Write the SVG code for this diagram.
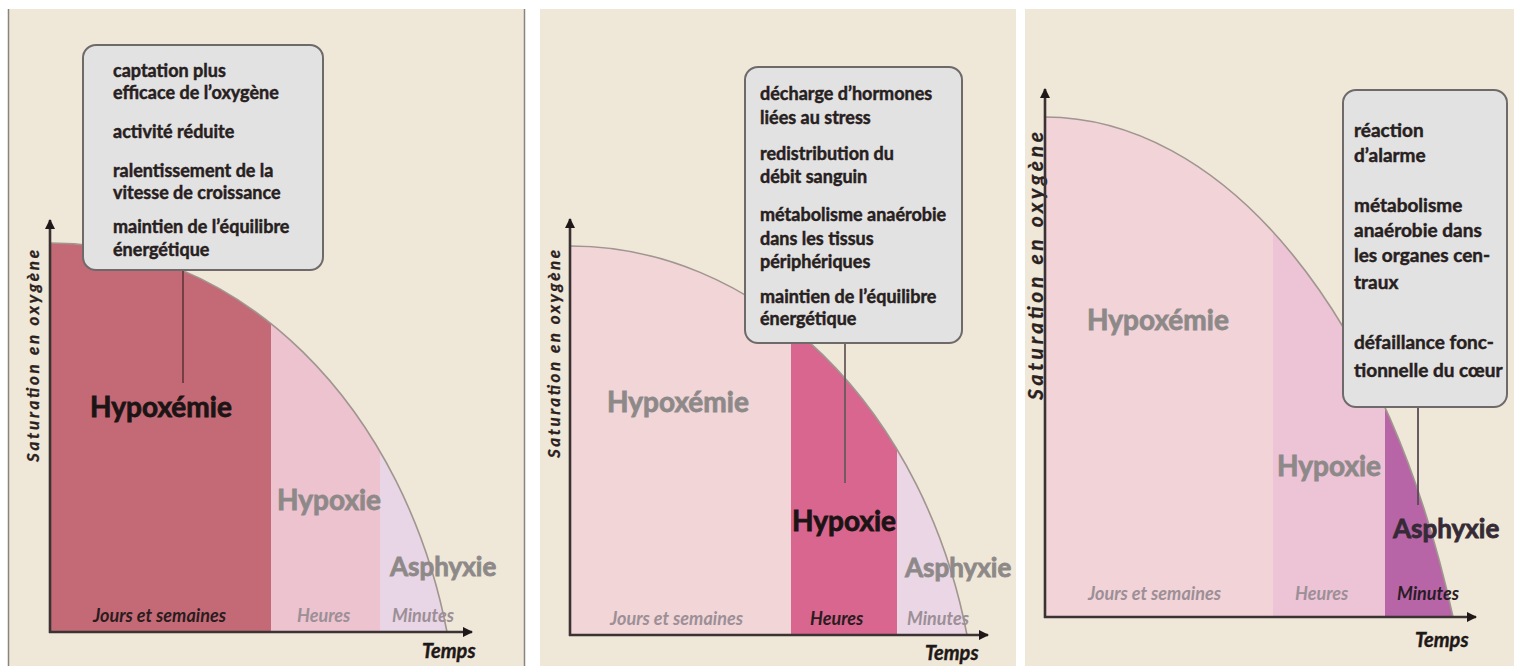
<svg xmlns="http://www.w3.org/2000/svg" width="1514" height="666" viewBox="0 0 1514 666">
<style>
.bg{fill:#efe7d7}
.curve{fill:none;stroke:#a0958f;stroke-width:1.6}
.axis{stroke:#3b3333;stroke-width:2.6;fill:none}
.box{fill:#e3e2e2;stroke:#6f6a6a;stroke-width:2}
.bt{font-family:Lato,"Open Sans",sans-serif;font-weight:700;font-size:18px;fill:#272020;stroke:#272020;stroke-width:0.45}
.bt3{font-family:Lato,"Open Sans",sans-serif;font-weight:700;font-size:19px;fill:#272020;stroke:#272020;stroke-width:0.45}
.big{font-family:Lato,"Open Sans",sans-serif;font-weight:700;font-size:28px;stroke-width:0.8}
.it{font-family:Lato,"Open Sans",sans-serif;font-weight:700;font-style:italic;font-size:18px}
.tm{font-family:Lato,"Open Sans",sans-serif;font-weight:700;font-style:italic;font-size:20px;fill:#1e1818;stroke:#1e1818;stroke-width:0.4}
.yl{font-family:Lato,"Open Sans",sans-serif;font-weight:700;font-style:italic;font-size:17px;fill:#2a2020;stroke:#2a2020;stroke-width:0.3}
.blk{fill:#1c1414;stroke:#1c1414}
.gry{fill:#8e8989;stroke:#8e8989}
.gi{fill:#9c8f96}
.lead{stroke-width:1.8;fill:none}
</style>
<defs>
<marker id="ah" viewBox="0 0 10 10" refX="9" refY="5" markerWidth="4" markerHeight="4" orient="auto" markerUnits="strokeWidth">
<path d="M0,0 L10,5 L0,10 Z" fill="#1e1818"/>
</marker>
<clipPath id="c1"><path d="M50,632 L50,243 A408,507 0 0 1 447,632 Z"/></clipPath>
<clipPath id="c2"><path d="M570,635 L570,246 A408,507 0 0 1 967,635 Z"/></clipPath>
<clipPath id="c3"><path d="M1045,617 L1045,117 A438,783 0 0 1 1453,617 Z"/></clipPath>
</defs>
<rect x="0" y="0" width="1514" height="666" fill="#ffffff"/>
<rect class="bg" x="9" y="9" width="515" height="657"/>
<rect class="bg" x="540" y="9" width="476" height="657"/>
<rect class="bg" x="1025" y="9" width="489" height="657"/>
<line x1="8.5" y1="9" x2="8.5" y2="666" stroke="#8a8480" stroke-width="1.5"/>
<line x1="524.5" y1="9" x2="524.5" y2="666" stroke="#8a8480" stroke-width="1.5"/>

<g id="panel1">
<g clip-path="url(#c1)">
<rect x="50" y="200" width="221" height="440" fill="#c46a76"/>
<rect x="271" y="200" width="109" height="440" fill="#ecc3cf"/>
<rect x="380" y="200" width="80" height="440" fill="#e8d5e5"/>
</g>
<path class="curve" d="M50,243 A408,507 0 0 1 447,632"/>
<text class="yl" transform="translate(39,462) rotate(-90)" textLength="212" lengthAdjust="spacing">Saturation en oxygène</text>
<text class="big blk" x="90" y="417">Hypoxémie</text>
<text class="big gry" x="277" y="510">Hypoxie</text>
<text class="big gry" x="390" y="576" style="font-size:26px">Asphyxie</text>
<text class="it" x="93" y="622" fill="#2a1c1e">Jours et semaines</text>
<text class="it gi" x="297" y="622">Heures</text>
<text class="it gi" x="392" y="622">Minutes</text>
<text class="tm" x="422" y="658">Temps</text>
</g>

<g id="panel2">
<g clip-path="url(#c2)">
<rect x="570" y="200" width="221" height="440" fill="#f1d5d7"/>
<rect x="791" y="200" width="106" height="440" fill="#d8668f"/>
<rect x="897" y="200" width="80" height="440" fill="#ead6e5"/>
</g>
<path class="curve" d="M570,246 A408,507 0 0 1 967,635"/>
<text class="yl" transform="translate(560,458) rotate(-90)" textLength="208" lengthAdjust="spacing">Saturation en oxygène</text>
<text class="big gry" x="607" y="412">Hypoxémie</text>
<text class="big blk" x="792" y="531">Hypoxie</text>
<text class="big gry" x="905" y="577" style="font-size:26px">Asphyxie</text>
<text class="it gi" x="610" y="625">Jours et semaines</text>
<text class="it" x="810" y="625" fill="#2a1c1e">Heures</text>
<text class="it gi" x="907" y="625">Minutes</text>
<text class="tm" x="925" y="660">Temps</text>
</g>

<g id="panel3">
<g clip-path="url(#c3)">
<rect x="1045" y="100" width="228" height="530" fill="#f1d3d8"/>
<rect x="1273" y="100" width="112" height="530" fill="#edc3d6"/>
<rect x="1385" y="100" width="80" height="530" fill="#b865a8"/>
</g>
<path class="curve" d="M1045,117 A438,783 0 0 1 1453,617"/>
<text class="yl" transform="translate(1043,400) rotate(-90)" style="font-size:21px" textLength="268" lengthAdjust="spacing">Saturation en oxygène</text>
<text class="big gry" x="1087" y="330">Hypoxémie</text>
<text class="big gry" x="1277" y="476">Hypoxie</text>
<text class="big" x="1393" y="538" fill="#352a35" stroke="#352a35" style="font-size:26px">Asphyxie</text>
<text class="it gi" x="1088" y="600">Jours et semaines</text>
<text class="it gi" x="1295" y="600">Heures</text>
<text class="it" x="1397" y="600" fill="#2a1c26">Minutes</text>
<text class="tm" x="1415" y="647">Temps</text>
</g>

<g id="connectors">
<line class="axis" x1="50" y1="633" x2="50" y2="220" marker-end="url(#ah)"/>
<line class="axis" x1="49" y1="632" x2="472" y2="632" marker-end="url(#ah)"/>
<line class="axis" x1="570" y1="636" x2="570" y2="219" marker-end="url(#ah)"/>
<line class="axis" x1="569" y1="635" x2="988" y2="635" marker-end="url(#ah)"/>
<line class="axis" x1="1045" y1="618" x2="1045" y2="89" marker-end="url(#ah)"/>
<line class="axis" x1="1044" y1="617" x2="1476" y2="617" marker-end="url(#ah)"/>
<line class="lead" x1="183" y1="270" x2="183" y2="383" stroke="#6b3a40"/>
<line class="lead" x1="845" y1="343" x2="845" y2="483" stroke="#6a5a5e"/>
<line class="lead" x1="1418" y1="407" x2="1418" y2="505" stroke="#5a4a55"/>
</g>

<g id="box1">
<rect class="box" x="83" y="45" width="240" height="225" rx="13"/>
<text class="bt" x="113" y="77">captation plus</text>
<text class="bt" x="113" y="99">efficace de l’oxygène</text>
<text class="bt" x="113" y="138">activité réduite</text>
<text class="bt" x="113" y="177">ralentissement de la</text>
<text class="bt" x="113" y="199">vitesse de croissance</text>
<text class="bt" x="113" y="233">maintien de l’équilibre</text>
<text class="bt" x="113" y="256">énergétique</text>
</g>

<g id="box2">
<rect class="box" x="745" y="67" width="217" height="276" rx="13"/>
<text class="bt" x="760" y="100">décharge d’hormones</text>
<text class="bt" x="760" y="124">liées au stress</text>
<text class="bt" x="760" y="160">redistribution du</text>
<text class="bt" x="760" y="183">débit sanguin</text>
<text class="bt" x="760" y="221">métabolisme anaérobie</text>
<text class="bt" x="760" y="245">dans les tissus</text>
<text class="bt" x="760" y="268">périphériques</text>
<text class="bt" x="760" y="303">maintien de l’équilibre</text>
<text class="bt" x="760" y="325">énergétique</text>
</g>

<g id="box3">
<rect class="box" x="1343" y="90" width="164" height="317" rx="13"/>
<text class="bt3" x="1354" y="137">réaction</text>
<text class="bt3" x="1354" y="162">d’alarme</text>
<text class="bt3" x="1354" y="212">métabolisme</text>
<text class="bt3" x="1354" y="237">anaérobie dans</text>
<text class="bt3" x="1354" y="262">les organes cen-</text>
<text class="bt3" x="1354" y="289">traux</text>
<text class="bt3" x="1354" y="349">défaillance fonc-</text>
<text class="bt3" x="1354" y="377">tionnelle du cœur</text>
</g>
</svg>
